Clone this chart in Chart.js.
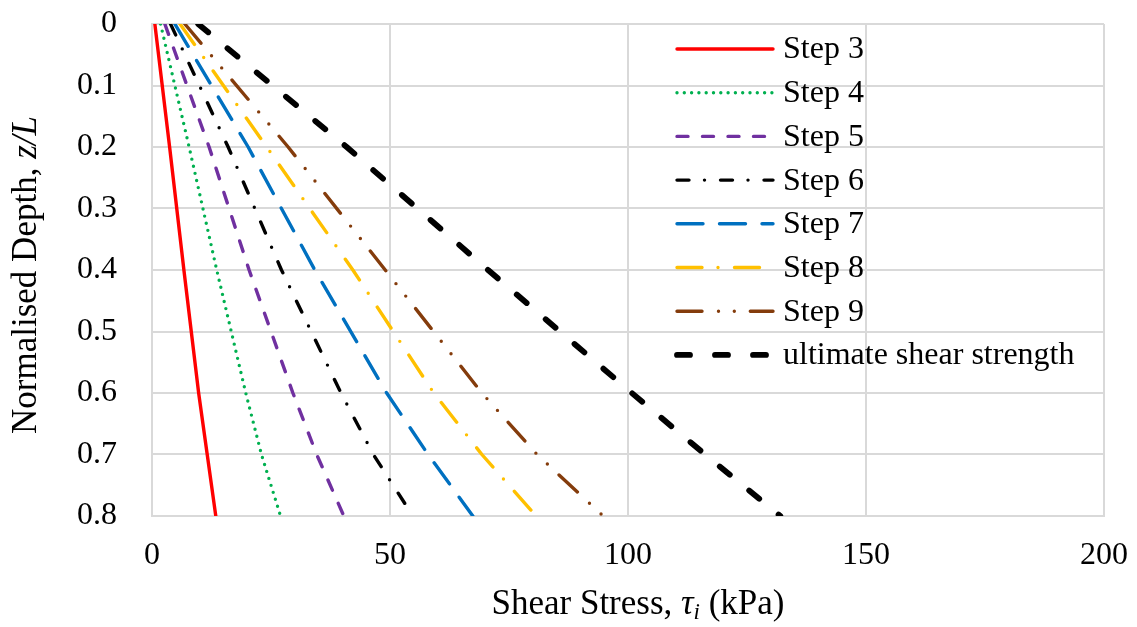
<!DOCTYPE html>
<html>
<head>
<meta charset="utf-8">
<script src="https://cdn.jsdelivr.net/npm/chart.js@4"></script>
<style>
  html, body { margin: 0; padding: 0; background: #fff; }
  #wrap { width: 1137px; height: 627px; }
</style>
</head>
<body>
<div id="wrap"><canvas id="shearChart" width="1137" height="627"></canvas></div>
<script>
// normalised depth z/L at which values were read
const depths = [0, 0.2, 0.4, 0.6, 0.7, 0.8];

// shear stress (kPa) per step
const step3 = [0.6, 3.7, 6.7, 9.8, 11.6, 13.4];
const step4 = [1.8, 7.8, 13.6, 19.7, 23.0, 27.0];
const step5 = [2.7, 12.0, 20.4, 29.6, 34.6, 40.3];
const step6 = [3.9, 16.0, 27.2, 39.7, 46.5, 54.8];
const step7 = [4.8, 20.2, 34.2, 49.3, 58.0, 67.4];
const step8 = [5.9, 24.1, 42.2, 59.2, 69.3, 80.7];
const step9 = [6.9, 28.6, 49.0, 69.3, 80.9, 94.8];
const ultimate = [9.7, 40.9, 70.6, 100.8, 116.2, 132.0];

const seriesNames = ['Step 3', 'Step 4', 'Step 5', 'Step 6', 'Step 7', 'Step 8', 'Step 9', 'ultimate shear strength'];

const xTicks = [0, 50, 100, 150, 200];
const yTicks = [0, 0.1, 0.2, 0.3, 0.4, 0.5, 0.6, 0.7, 0.8];

const FONT = "'Liberation Serif', 'DejaVu Serif', serif";

function toPoints(values) {
  return values.map(function(v, i) { return { x: v, y: depths[i] }; });
}

const styles = [
  { color: '#ff0000', width: 3.4, dash: [] },
  { color: '#00b050', width: 3.4, dash: [0, 7.3] },
  { color: '#7030a0', width: 3.4, dash: [11, 14.5] },
  { color: '#000000', width: 3.4, dash: [12, 15.5, 0, 16] },
  { color: '#0070c0', width: 3.4, dash: [26, 16.5] },
  { color: '#ffc000', width: 3.4, dash: [25, 16, 0, 16.5] },
  { color: '#843c0c', width: 3.4, dash: [25, 16.5, 0, 15.8, 0, 16] },
  { color: '#000000', width: 5.8, dash: [13, 25] }
];

const allSeries = [step3, step4, step5, step6, step7, step8, step9, ultimate];

const datasets = allSeries.map(function(vals, i) {
  return {
    label: seriesNames[i],
    data: toPoints(vals),
    showLine: true,
    borderColor: styles[i].color,
    backgroundColor: styles[i].color,
    borderWidth: styles[i].width,
    borderDash: styles[i].dash,
    borderCapStyle: 'round',
    borderJoinStyle: 'round',
    pointRadius: 0,
    pointHoverRadius: 0,
    tension: 0
  };
});

// legend drawn inside the plot, top right
const insideLegend = {
  id: 'insideLegend',
  afterDatasetsDraw(chart) {
    const ctx = chart.ctx;
    const x0 = 677, x1 = 773, tx = 783;
    const top = 49, rowGap = 43.7;
    ctx.save();
    chart.data.datasets.forEach(function(ds, i) {
      const y = top + i * rowGap;
      ctx.beginPath();
      ctx.strokeStyle = ds.borderColor;
      ctx.lineWidth = ds.borderWidth;
      ctx.lineCap = 'round';
      ctx.setLineDash(ds.borderDash);
      ctx.moveTo(x0, y);
      ctx.lineTo(x1, y);
      ctx.stroke();
      ctx.setLineDash([]);
      ctx.fillStyle = '#000';
      ctx.font = '32px ' + FONT;
      ctx.textAlign = 'left';
      ctx.textBaseline = 'middle';
      ctx.fillText(ds.label, tx, y + 1);
    });
    ctx.restore();
  }
};

// axis titles with italic parts
function drawRuns(ctx, runs, cx, cy) {
  let total = 0;
  runs.forEach(function(r) {
    ctx.font = r.font;
    r.w = ctx.measureText(r.text).width;
    total += r.w;
  });
  let x = cx - total / 2;
  runs.forEach(function(r) {
    ctx.font = r.font;
    ctx.fillText(r.text, x, cy + (r.dy || 0));
    x += r.w;
  });
}

const axisTitles = {
  id: 'axisTitles',
  afterDraw(chart) {
    const ctx = chart.ctx;
    const a = chart.chartArea;
    ctx.save();
    ctx.fillStyle = '#000';
    ctx.textAlign = 'left';
    ctx.textBaseline = 'middle';
    drawRuns(ctx, [
      { text: 'Shear Stress, ', font: '35px ' + FONT },
      { text: '\u03C4', font: 'italic 35px ' + FONT },
      { text: 'i', font: 'italic 23px ' + FONT, dy: 8 },
      { text: ' (kPa)', font: '35px ' + FONT }
    ], (a.left + a.right) / 2 + 10, 605);
    ctx.translate(27, (a.top + a.bottom) / 2 + 5);
    ctx.rotate(-Math.PI / 2);
    drawRuns(ctx, [
      { text: 'Normalised Depth, ', font: '35px ' + FONT },
      { text: 'z/L', font: 'italic 35px ' + FONT }
    ], 0, 0);
    ctx.restore();
  }
};

const gridColor = '#d9d9d9';

new Chart(document.getElementById('shearChart').getContext('2d'), {
  type: 'scatter',
  data: { datasets: datasets },
  plugins: [insideLegend, axisTitles],
  options: {
    responsive: false,
    animation: false,
    events: [],
    layout: { padding: { top: 24, right: 33, left: 0, bottom: 0 } },
    plugins: {
      legend: { display: false },
      tooltip: { enabled: false }
    },
    scales: {
      x: {
        type: 'linear',
        min: xTicks[0],
        max: xTicks[xTicks.length - 1],
        afterBuildTicks: function(scale) {
          scale.ticks = xTicks.map(function(v) { return { value: v }; });
        },
        afterFit: function(scale) {
          scale.height = 111;
          scale.paddingLeft = 0;
          scale.paddingRight = 0;
        },
        grid: { color: gridColor, lineWidth: 2, drawTicks: false },
        border: { color: gridColor, width: 2 },
        ticks: {
          color: '#000',
          padding: 20,
          maxRotation: 0,
          font: { family: FONT, size: 32 }
        }
      },
      y: {
        type: 'linear',
        reverse: true,
        min: yTicks[0],
        max: yTicks[yTicks.length - 1],
        afterBuildTicks: function(scale) {
          scale.ticks = yTicks.map(function(v) { return { value: v }; });
        },
        afterFit: function(scale) {
          scale.width = 152;
          scale.paddingTop = 0;
          scale.paddingBottom = 0;
        },
        grid: { color: gridColor, lineWidth: 2, drawTicks: false },
        border: { color: gridColor, width: 2 },
        ticks: {
          color: '#000',
          padding: 35,
          font: { family: FONT, size: 32 },
          callback: function(v) { return v === 0 ? '0' : v.toFixed(1); }
        }
      }
    }
  }
});
</script>
</body>
</html>
